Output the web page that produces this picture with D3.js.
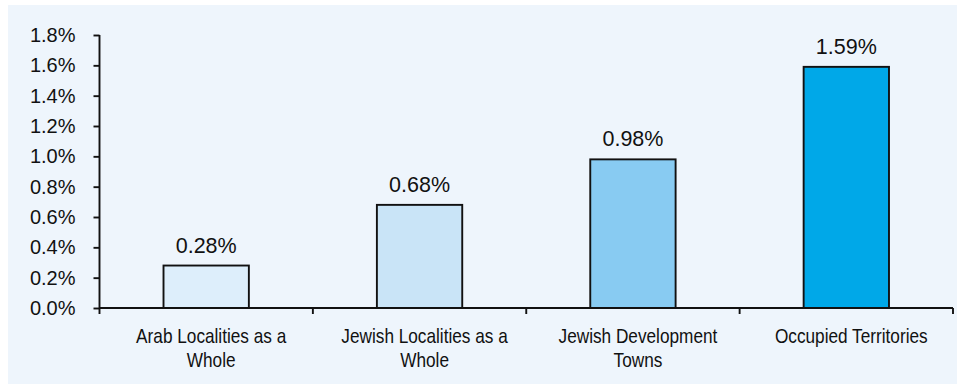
<!DOCTYPE html>
<html>
<head>
<meta charset="utf-8">
<script src="https://cdn.jsdelivr.net/npm/d3@7"></script>
<style>
  html, body { margin: 0; padding: 0; background: #ffffff; }
  svg { display: block; }
</style>
</head>
<body>
<svg id="chart" width="957" height="384"></svg>
<script>
// Growth rates by locality type
const categories = [
  ["Arab Localities as a", "Whole"],
  ["Jewish Localities as a", "Whole"],
  ["Jewish Development", "Towns"],
  ["Occupied Territories"]
];
const values = [0.28, 0.68, 0.98, 1.59];
const barColors = ["#ddeefb", "#c9e4f7", "#88cbf2", "#00a8e8"];
const yTicks = [0, 0.2, 0.4, 0.6, 0.8, 1.0, 1.2, 1.4, 1.6, 1.8];

const svg = d3.select("#chart");
const W = 957, H = 384;
const FONT = "Liberation Sans, Arial, sans-serif";
const INK = "#111";
const SW = 1.9;

// panel background
svg.append("rect")
  .attr("x", 8).attr("y", 5)
  .attr("width", W - 8).attr("height", H - 5)
  .attr("fill", "#eef5fc");

const margin = { left: 99.5, right: 4, top: 35, bottom: 76 };
const x = d3.scaleBand()
  .domain(d3.range(categories.length))
  .range([margin.left, W - margin.right])
  .paddingInner(0.6).paddingOuter(0.3);
const xOuter = d3.scaleBand()
  .domain(d3.range(categories.length))
  .range([margin.left, W - margin.right]);
const y = d3.scaleLinear()
  .domain([0, 1.8])
  .range([H - margin.bottom, margin.top]);

// bars
svg.append("g").selectAll("rect")
  .data(values)
  .join("rect")
  .attr("x", (d, i) => x(i))
  .attr("y", d => y(d))
  .attr("width", x.bandwidth())
  .attr("height", d => y(0) - y(d))
  .attr("fill", (d, i) => barColors[i])
  .attr("stroke", INK)
  .attr("stroke-width", SW);

// value labels
svg.append("g").selectAll("text")
  .data(values)
  .join("text")
  .attr("x", (d, i) => x(i) + x.bandwidth() / 2)
  .attr("y", d => y(d) - 13)
  .attr("text-anchor", "middle")
  .attr("font-family", FONT)
  .attr("font-size", 21.5)
  .attr("fill", INK)
  .text(d => d.toFixed(2) + "%");

// y axis
const yAxis = svg.append("g")
  .attr("transform", `translate(${margin.left},0)`)
  .call(d3.axisLeft(y).tickValues(yTicks).tickSize(6).tickPadding(18)
    .tickFormat(d => d.toFixed(1) + "%"));
yAxis.select(".domain").remove();
yAxis.append("line")
  .attr("x1", 0).attr("x2", 0)
  .attr("y1", y(1.8)).attr("y2", y(0) + 6)
  .attr("stroke", INK).attr("stroke-width", SW);
yAxis.selectAll(".tick line").attr("stroke", INK).attr("stroke-width", SW);
yAxis.selectAll(".tick text")
  .attr("font-family", FONT)
  .attr("font-size", 20)
  .attr("fill", INK);

// x axis baseline with ticks at category boundaries
const xg = svg.append("g");
xg.append("line")
  .attr("x1", margin.left).attr("x2", W - margin.right)
  .attr("y1", y(0)).attr("y2", y(0))
  .attr("stroke", INK).attr("stroke-width", SW);
xg.selectAll("line.bound")
  .data(d3.range(1, categories.length + 1))
  .join("line")
  .attr("class", "bound")
  .attr("x1", i => xOuter(i - 1) + xOuter.bandwidth())
  .attr("x2", i => xOuter(i - 1) + xOuter.bandwidth())
  .attr("y1", y(0)).attr("y2", y(0) + 6)
  .attr("stroke", INK).attr("stroke-width", SW);

// category labels, set in a condensed face
const catText = xg.selectAll("text.cat")
  .data(categories)
  .join("text")
  .attr("class", "cat")
  .attr("transform", (d, i) =>
    `translate(${x(i) + x.bandwidth() / 2 + 5},${y(0) + 35}) scale(0.82,1)`)
  .attr("text-anchor", "middle")
  .attr("font-family", FONT)
  .attr("font-size", 21)
  .attr("fill", INK);
catText.selectAll("tspan")
  .data(d => d)
  .join("tspan")
  .attr("x", 0)
  .attr("dy", (d, i) => i === 0 ? 0 : 24)
  .text(d => d);
</script>
</body>
</html>
